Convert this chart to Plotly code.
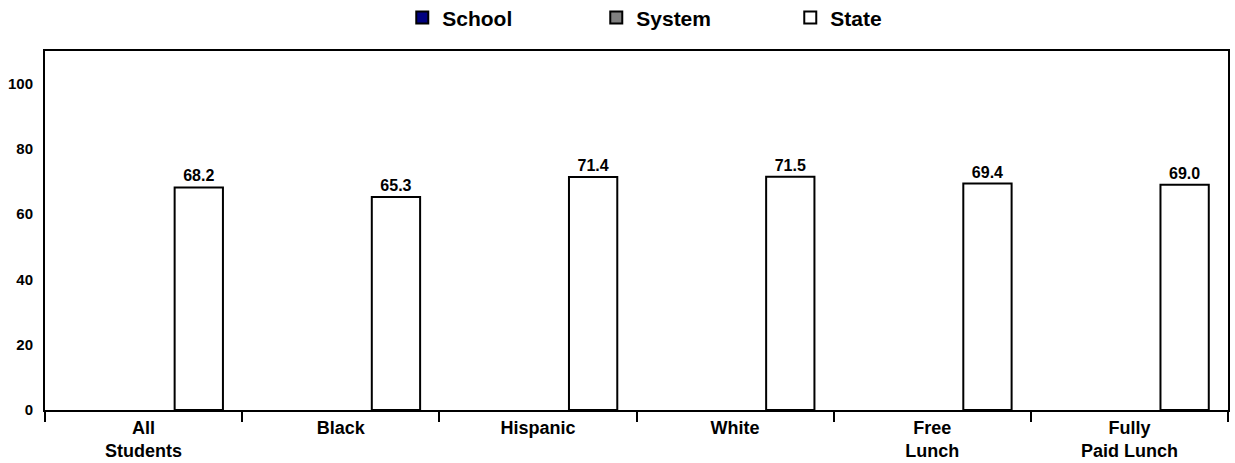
import plotly.graph_objects as go

categories = ["All<br>Students", "Black", "Hispanic", "White", "Free<br>Lunch", "Fully<br>Paid Lunch"]
school = [None, None, None, None, None, None]
system = [None, None, None, None, None, None]
state = [68.2, 65.3, 71.4, 71.5, 69.4, 69.0]

FONT = "Liberation Sans, Arial, sans-serif"

fig = go.Figure()
fig.add_trace(go.Bar(name="School", x=categories, y=school,
                     marker=dict(color="#000080", line=dict(color="black", width=2))))
fig.add_trace(go.Bar(name="System", x=categories, y=system,
                     marker=dict(color="#808080", line=dict(color="black", width=2))))
fig.add_trace(go.Bar(name="State", x=categories, y=state,
                     marker=dict(color="white", line=dict(color="black", width=2)),
                     text=[f"{v:.1f}" for v in state], textposition="outside",
                     textfont=dict(family=FONT, size=16, color="black", weight="bold"),
                     cliponaxis=False))

fig.update_layout(
    width=1235, height=463,
    margin=dict(l=45, r=7, t=51, b=53, autoexpand=False),
    paper_bgcolor="white", plot_bgcolor="white",
    barmode="group", bargap=0.16, bargroupgap=0.125,
    font=dict(family=FONT, color="black", weight="bold"),
    showlegend=True,
    legend=dict(orientation="h", x=0.302, xanchor="left", y=1.092, yref="paper",
                yanchor="middle", entrywidth=149, entrywidthmode="pixels",
                font=dict(family=FONT, size=21, color="black", weight="bold"),
                traceorder="normal"),
)
fig.update_xaxes(showline=True, linecolor="black", linewidth=2, mirror=True,
                 ticks="outside", tickson="boundaries", ticklen=10, tickwidth=2,
                 tickcolor="black", showgrid=False, automargin=False,
                 tickfont=dict(family=FONT, size=18, color="black", weight="bold"))
fig.update_yaxes(range=[0, 110], tickvals=[0, 20, 40, 60, 80, 100],
                 showline=True, linecolor="black", linewidth=2, mirror=True,
                 showgrid=False, zeroline=False, ticks="", ticklabelstandoff=7,
                 automargin=False,
                 tickfont=dict(family=FONT, size=15, color="black", weight="bold"))

# remove the browser's default 8px body margin so the figure fills the window
fig.write_html("out.html", config={"displayModeBar": False},
               post_script="document.body.style.margin='0';")
